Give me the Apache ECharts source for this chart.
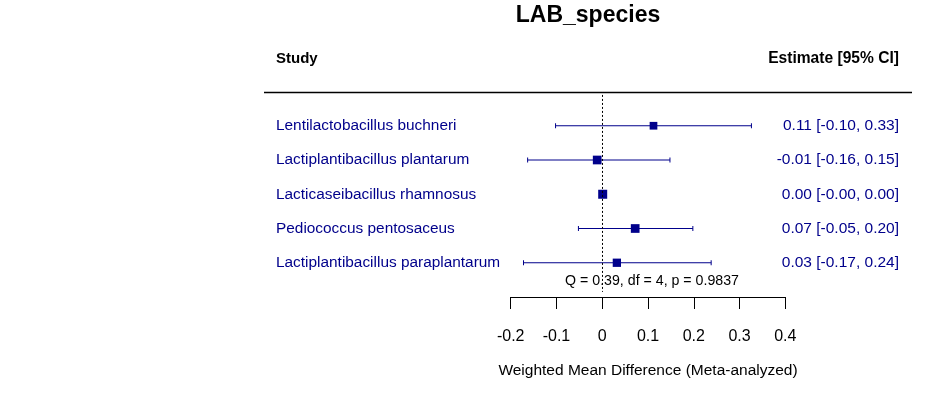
<!DOCTYPE html>
<html>
<head>
<meta charset="utf-8">
<script src="https://cdn.jsdelivr.net/npm/echarts@6/dist/echarts.min.js"></script>
<style>
html,body{margin:0;padding:0;background:#fff;}
#chart{width:937px;height:393px;}
</style>
</head>
<body>
<div id="chart"></div>
<script>
// ---- data ----
var studies = [
  'Lentilactobacillus buchneri',
  'Lactiplantibacillus plantarum',
  'Lacticaseibacillus rhamnosus',
  'Pediococcus pentosaceus',
  'Lactiplantibacillus paraplantarum'
];
var estimates = [0.112, -0.011, 0.001, 0.072, 0.032];
var ciLower   = [-0.102, -0.163, -0.002, -0.052, -0.172];
var ciUpper   = [0.326, 0.148, 0.003, 0.198, 0.238];
var weights   = [7.7, 8.7, 9.0, 8.7, 8.3];   // square sizes (relative weights)
var xTicks = [-0.2, -0.1, 0, 0.1, 0.2, 0.3, 0.4];
var titleText = 'LAB_species';
var hetText = 'Q = 0.39, df = 4, p = 0.9837';
var xName = 'Weighted Mean Difference (Meta-analyzed)';

// ---- build ----
var FONT = '"Liberation Sans", Arial, Helvetica, sans-serif';
var BLUE = '#00008B';
function fmt(v){ return v.toFixed(2); }
var ciLabels = estimates.map(function(e,i){
  return fmt(e) + ' [' + fmt(ciLower[i]) + ', ' + fmt(ciUpper[i]) + ']';
});
var rowData = studies.map(function(s,i){ return [estimates[i], i+1, ciLower[i], ciUpper[i], weights[i]]; });

var chart = echarts.init(document.getElementById('chart'), null, {renderer:'canvas'});
var gridLeft = 510.7, gridRight = 937 - 785.3, gridTop = 91.5, gridHeight = 205.5;

var option = {
  animation: false,
  backgroundColor: '#ffffff',
  textStyle: {fontFamily: FONT},
  grid: {left: gridLeft, right: gridRight, top: gridTop, height: gridHeight, containLabel: false},
  xAxis: {
    type: 'value', min: xTicks[0], max: xTicks[xTicks.length-1], interval: 0.1,
    axisLine: {show: true, onZero: false, lineStyle: {color: '#000', width: 1}},
    axisTick: {show: true, inside: false, length: 12, lineStyle: {color: '#000', width: 1}},
    splitLine: {show: false},
    axisLabel: {margin: 32, fontSize: 16, color: '#000', fontFamily: FONT,
      formatter: function(v){ return String(Math.round(v*10)/10); }},
    name: xName, nameLocation: 'middle', nameGap: 66,
    nameTextStyle: {fontSize: 15.5, color: '#000', fontFamily: FONT}
  },
  yAxis: [{
    type: 'value', min: 0, max: 6, interval: 1, inverse: true, position: 'left',
    axisLine: {show: false}, axisTick: {show: false}, splitLine: {show: false},
    axisLabel: {show: true, align: 'left', margin: gridLeft - 276, fontSize: 15.4, color: BLUE, fontFamily: FONT,
      formatter: function(v){ return studies[v-1] || ''; }}
  }, {
    type: 'value', min: 0, max: 6, interval: 1, inverse: true, position: 'right',
    axisLine: {show: false}, axisTick: {show: false}, splitLine: {show: false},
    axisLabel: {show: true, align: 'right', margin: 899 - 785.3, fontSize: 15.5, color: BLUE, fontFamily: FONT,
      formatter: function(v){ return ciLabels[v-1] || ''; }}
  }],
  series: [{
    type: 'custom',
    data: rowData,
    renderItem: function(params, api){
      var y = api.value(1);
      var p1 = api.coord([api.value(2), y]);
      var p2 = api.coord([api.value(3), y]);
      var cap = 2.5;
      var st = {stroke: BLUE, lineWidth: 1};
      return {type: 'group', children: [
        {type:'line', shape:{x1:p1[0], y1:p1[1], x2:p2[0], y2:p2[1]}, style: st},
        {type:'line', shape:{x1:p1[0], y1:p1[1]-cap, x2:p1[0], y2:p1[1]+cap}, style: st},
        {type:'line', shape:{x1:p2[0], y1:p2[1]-cap, x2:p2[0], y2:p2[1]+cap}, style: st}
      ]};
    },
    markLine: {
      silent: true, symbol: ['none','none'], label: {show:false},
      lineStyle: {color:'#000', width:1, type:[2,2]},
      data: [[{coord:[0, 0.1]}, {coord:[0, 5.85]}]]
    },
    z: 2
  }, {
    type: 'scatter',
    data: rowData.map(function(d){ return [d[0], d[1], d[4]]; }),
    symbol: 'rect',
    symbolSize: function(v){ return v[2]; },
    itemStyle: {color: BLUE, opacity: 1},
    z: 3
  }],
  graphic: [
    {type:'text', x: 588, y: 16, style:{text: titleText, font: 'bold 23px ' + FONT, fill:'#000', align:'center', verticalAlign:'middle'}},
    {type:'text', x: 276, y: 59, style:{text: 'Study', font: 'bold 15px ' + FONT, fill:'#000', align:'left', verticalAlign:'middle'}},
    {type:'text', x: 899, y: 59, style:{text: 'Estimate [95% CI]', font: 'bold 15.6px ' + FONT, fill:'#000', align:'right', verticalAlign:'middle'}},
    {type:'line', shape:{x1: 264, y1: 92.5, x2: 912, y2: 92.5}, style:{stroke:'#000', lineWidth: 1.5}},
    {type:'text', x: 652, y: 281, z: 10, style:{text: hetText, font: '14.2px ' + FONT, fill:'#000', align:'center', verticalAlign:'middle'}}
  ]
};
chart.setOption(option);
</script>
</body>
</html>
